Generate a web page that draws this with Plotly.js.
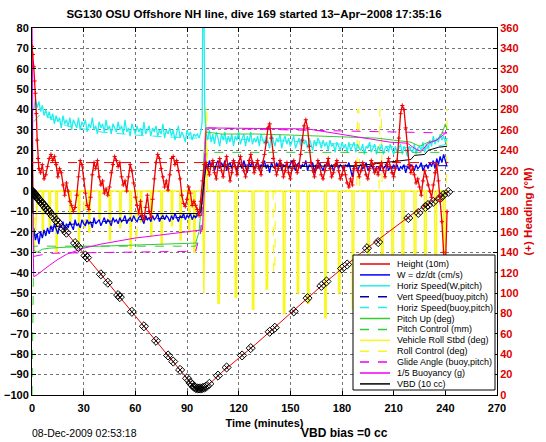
<!DOCTYPE html>
<html><head><meta charset="utf-8">
<script src="https://cdn.plot.ly/plotly-3.0.1.min.js"></script>
<style>html,body{margin:0;padding:0;background:#fff}#c{width:546px;height:442px}</style>
</head><body><div id="c"></div>
<script>
// ---------------- DATA ----------------
const depthT = [0,2,5,10,15,20,30,40,50,60,70,80,88,92,94,96,98,100,101,105,110,120,130,140,150,160,170,180,190,200,210,220,230,235,240,241.8];
const depthV = [0,-2,-5.1,-10.2,-15.3,-20.4,-30.6,-40.8,-51,-61.2,-71.4,-81.6,-89.8,-94,-96,-96.8,-96.8,-96.4,-96,-93,-89,-82,-75,-67.5,-60,-52.5,-45,-38,-31,-24.5,-18,-11.8,-6,-3.5,-1,0];
const markT = [0,0.5,1,1.5,2,2.5,3,3.5,4,5,6,7,8,9,10,12,14,15,18,20,25,27,31,32,40,44,50,51,58,65,72,79,82,86,90,92,93,94,95,96,97,98,99,100,101,103,108,113,122,127,138,141,152,160,168,171,180,183,194.5,201,218.5,224.3,228.4,230,233,237,238.8,241.7];
const markV = [0,-0.5,-1,-1.5,-2,-2.6,-3.1,-3.6,-4.1,-5.1,-6.1,-7.1,-8.2,-9.2,-10.2,-12.2,-14.3,-15.3,-18.4,-20.4,-25.5,-27.5,-31.6,-32.6,-40.8,-44.9,-51,-52,-59.2,-66.3,-73.4,-80.6,-83.6,-87.7,-91.8,-94,-95,-96,-96.5,-96.8,-96.8,-96.8,-96.6,-96.4,-96,-94.5,-90.5,-86.5,-80.6,-77,-69,-67,-59,-52.5,-46.5,-44.3,-38,-36,-28,-25,-13.2,-10.7,-7.8,-6.8,-5.3,-3.4,-1.9,-0.4];

const tD = [1,2,3,4,5,6,7,8,9,10,11,12,13,14,15,16,17,18,19,20,21,22,23,24,25,26,27,28,29,30,31,32,33,34,35,36,37,38,39,40,41,42,43,44,45,46,47,48,49,50,51,52,53,54,55,56,57,58,59,60,61,62,63,64,65,66,67,68,69,70,71,72,73,74,75,76,77,78,79,80,81,82,83,84,85,86,87,88,89,90,91,92,93,94,95];
const tA = [101,102,103,104,105,106,107,108,109,110,111,112,113,114,115,116,117,118,119,120,121,122,123,124,125,126,127,128,129,130,131,132,133,134,135,136,137,138,139,140,141,142,143,144,145,146,147,148,149,150,151,152,153,154,155,156,157,158,159,160,161,162,163,164,165,166,167,168,169,170,171,172,173,174,175,176,177,178,179,180,181,182,183,184,185,186,187,188,189,190,191,192,193,194,195,196,197,198,199,200,201,202,203,204,205,206,207,208,209,210,211,212,213,214,215,216,217,218,219,220,221,222,223,224,225,226,227,228,229,230,231,232,233,234,235,236,237,238,239,240,241];

// Horiz Speed (W,pitch)
const cyanD = [40,45,41,44,39,42,37,40,36,39, 35,38,33,37,34,36,31,37,33,35, 32,36,30,35,33,31,36,30,34,32, 35,29,33,31,36,30,32,28,34,31, 33,29,35,30,32,28,33,31,29,34, 30,32,28,35,29,31,27,33,30,28, 32,29,31,27,34,28,30,32,27,31, 29,32,27,30,28,33,26,30,28,31, 27,30,25,29,32,26,29,27,24,30, 27,29,25,28,27];
const cyanXT = [96,97,98,98.8,99.2,99.8,100.3,100.6];
const cyanX = [28,26,29,34,95,95,40,30];
const cyanA = [29,25,30,24,28,23,29,26,22,28, 25,29,23,27,24,28,22,27,25,29, 23,26,28,22,27,24,29,23,26,24, 27,22,28,25,23,27,24,21,28,25, 22,26,24,28,21,25,27,23,26,22, 25,27,21,24,26,22,27,23,25,21, 26,23,20,25,22,26,24,21,25,22, 24,20,25,22,23,19,24,22,20,24, 21,23,19,24,20,22,24,19,23,21, 20,23,18,22,21,24,19,21,23,18, 22,20,23,18,21,22,19,23,20,18, 22,19,21,23,18,22,20,17,22,20, 19,23,18,21,22,20,24,19,23,21, 25,22,27,23,26,24,28,25,27,24, 26];

// W = dz/dt
const blueD = [-18,-24,-21,-26,-20,-23,-19,-22,-18,-21, -17,-20,-16,-19,-21,-17,-18,-15,-19,-16, -18,-15,-17,-19,-14,-17,-16,-18,-14,-16, -17,-14,-16,-15,-18,-13,-16,-15,-14,-17, -15,-13,-16,-14,-15,-17,-13,-15,-14,-16, -13,-15,-14,-12,-16,-14,-13,-15,-12,-14, -15,-13,-12,-14,-16,-12,-14,-13,-15,-12, -14,-13,-11,-15,-13,-12,-14,-12,-13,-15, -12,-14,-11,-13,-15,-12,-13,-11,-14,-12, -13,-11,-14,-12,-13];
const blueXT = [96,97,98,99,99.5,100,100.5];
const blueX = [-12,-11,-9,-4,2,8,12];
const blueA = [13,11,15,12,14,10,13,15,11,14, 12,15,10,13,14,11,15,12,10,14, 13,11,15,12,9,14,12,15,11,13, 14,10,13,12,15,11,13,9,14,12, 11,14,12,15,10,13,12,14,11,13, 15,12,10,13,14,11,13,12,15,10, 13,12,14,9,13,11,14,12,10,13, 12,14,11,13,10,12,14,11,13,12, 10,13,12,14,11,7,12,13,10,12, 13,11,12,14,10,12,13,11,9,12, 12,10,13,11,12,14,10,12,11,13, 11,13,10,12,11,13,9,12,11,13, 12,10,13,11,12,14,10,12,13,11, 14,12,15,11,16,13,17,14,18,15, 12];

// smooth model series (breakpoints)
const vbuoyT = [1,5,10,20,40,60,80,95,98,100,101,150,200,241];
const vbuoyV = [-22,-20,-18,-16.5,-15,-14,-13,-12.5,-8,6,13,12.5,12,12.5];
const hbuoyT = [1,5,10,20,40,60,80,95,98,100,101,150,200,230,241];
const hbuoyV = [34,38,36,32,29,27.5,26.5,26,26.5,27,26,24.5,22,21,23];
const pitchT = [0.3,1,3,6,10,20,40,60,80,95,97,99,100,101,110,130,150,170,190,200,210,220,225,230,235,238,240,241];
const pitchV = [0,-29,-30,-28.5,-28,-27.5,-27,-26.5,-26,-25.5,-20,0,20,29,28,28,27.5,27,26.5,26,25,24,22,24,25,28,33,30];
const pctlT = [0,0.3,0.6,1,50,95,98,100,101,241];
const pctlV = [-100,-65,-30,-27,-27,-27,-20,10,19,19];
const glideT = [1,10,50,95,98,100,101,150,200,240,241];
const glideV = [-32,-30.5,-30,-29.5,-20,10,31,30,29,28.5,28.5];
const buoyT = [0,0.3,0.6,1,3,6,10,15,20,30,40,50,60,70,80,90,96,99,100,101,160,175,190,208,218,222,226,230,235,241];
const buoyV = [85,60,-20,-42,-41,-39,-36.5,-33.5,-31,-28,-26,-24.5,-23,-22,-21,-20,-19.5,-19,0,31,30.5,28.5,26.5,24,23.5,21,19.5,23.5,25,29];
const vbdT = [0,0.5,97,98,100,101,150,190,200,212,220,222,228,230,236,241];
const vbdV = [40,-11,-11,-10.5,5,12,12,12.5,13.5,14.5,15.5,17.5,18,20,21.5,22];

// Vehicle roll (deg)
const rollT = [0,0.5,1,2,3,4, 5.8,6,6.6,6.8, 9.8,10,10.6,10.8, 13.8,14,14.6,14.8, 21.8,22,22.6,22.8, 26.8,27,27.6,27.8, 32.8,33,33.6,33.8, 38.8,39,39.6,39.8, 44.8,45,45.6,45.8, 50.8,51,51.6,51.8, 56.8,57,57.6,57.8, 62.8,63,63.6,63.8, 68.8,69,69.6,69.8, 74.8,75,75.6,75.8, 80.8,81,81.6,81.8, 85.8,86,86.6,86.8, 90.8,91,91.6,91.8, 93.8,94,94.6,94.8, 99,99.8,100.8,101.8, 107.8,108,108.8,109, 117.8,118,118.8,119, 127.8,128,128.8,129, 135.8,136,136.8,137, 145.8,146,146.8,147, 153.8,154,154.8,155, 159.8,160,160.8,161, 169.8,170,170.8,171, 177.8,178,178.8,179, 185.8,186,186.8,187, 194.8,195,195.8,196, 202.8,203,203.8,204, 208.8,209,209.8,210, 214.8,215,215.8,216, 221.8,222,222.8,223, 227.8,228,228.8,229, 233.8,234,234.8,235, 238.8,239,239.8,240, 241.8];
const rollV = [36,10,-30,-20,-5,0, 0,-22,-22,0, 0,-18,-18,0, 0,-30,-30,0, 0,-16,-16,0, 0,-25,-25,0, 0,-20,-20,0, 0,-14,-14,0, 0,-24,-24,0, 0,-18,-18,0, 0,-28,-28,0, 0,-15,-15,0, 0,-22,-22,0, 0,-26,-26,0, 0,-17,-17,0, 0,-24,-24,0, 0,-20,-20,0, 0,-30,-30,0, 0,-50,41,0, 0,-55,-55,0, 0,-52,-52,0, 0,-58,-58,0, 0,-48,-48,0, 0,-60,-60,0, 0,-50,-50,0, 0,-55,-55,0, 0,-62,-62,0, 0,-50,-50,0, 0,-58,-58,0, 0,-52,-52,0, 0,-60,-60,0, 0,-45,-45,0, 0,-56,-56,0, 0,-64,-64,0, 0,-50,-50,0, 0,-58,-58,0, 0,-62,-62,0, 0];
const rctlT = [0,0.5,2,4,30,30.3,31,31.3,60,60.3,61,61.3,95,100,100.5,101.5,102,140,140.3,141,141.3,188.5,189,189.8,190.3,201.5,202,202.8,203.3,240.5,241,241.8];
const rctlV = [30,-20,-10,0,0,-20,-20,0,0,-25,-25,0,0,0,40,40,0,0,-40,-40,0,0,40,40,0,0,40,40,0,0,40,40];

// Heading (deg M) on right axis
const headT0 = [0,0.5,1,1.5,2,2.5,3,3.5];
const head0 = [342,334,322,308,296,276,250,232];
const headDT = [4,5,6,7,8,9,10,11,12,13,14,15,16,17,18,19,20,21,22,23,24,25,26,27,28,29,30,31,32,33,34,35,36,37,38,39,40,41,42,43,44,45,46,47,48,49,50,51,52,53,54,55,56,57,58,59,60,61,62,63,64,65,66,67,68,69,70,71,72,73,74,75,76,77,78,79,80,81,82,83,84,85,86,87,88,89,90,91,92,93,94,95,96,97,98,99,100];
const headD = [222,218,226,212,216,224,232,236,230,234, 226,214,222,218,206,196,208,200,190,186, 180,184,196,214,230,226,212,198,186,182, 194,216,228,222,230,214,206,210,198,202, 196,204,218,226,234,230,224,228,214,206, 210,200,214,226,220,208,194,186,178,190, 176,172,184,196,180,174,192,212,228,236, 232,222,214,204,210,201,216,232,234,226, 230,220,212,196,188,185,192,204,198,186, 190,186,182,176,190,210,226];
const headA = [228,222,216,226,230,218,212,224,232,220, 214,226,234,222,210,218,230,224,216,228, 234,226,220,214,222,230,236,228,218,224, 230,222,216,228,236,248,262,266,252,232, 224,216,222,230,226,214,220,228,218,212, 222,230,226,218,224,236,250,264,270,262, 244,228,220,214,222,230,224,216,212,220, 226,232,222,214,218,226,230,220,212,216, 224,216,208,204,212,206,222,228,220,214, 220,228,224,216,212,222,230,226,218,222, 216,224,228,220,214,226,232,224,218,214, 222,230,252,276,284,280,262,240,226,218, 224,216,208,212,204,196,210,220,214,206, 200,194,206,218,226,210,190,170,140,120, 180];
const targetT = [0,241.8];
const targetH = [228,228];

const xTicks = [0,30,60,90,120,150,180,210,240,270];
const legendNames = ['Height (10m)','W = dz/dt (cm/s)','Horiz Speed(W,pitch)','Vert Speed(buoy,pitch)','Horiz Speed(buoy,pitch)','Pitch Up (deg)','Pitch Control (mm)','Vehicle Roll Stbd (deg)','Roll Control (deg)','Glide Angle (buoy,pitch)','1/5 Buoyancy (g)','VBD (10 cc)'];

// ---------------- STYLE ----------------
const C = {red:'#ee0000', blue:'#0000ff', cyan:'#22eeee', dblue:'#0000aa', green:'#33cc33', yellow:'#f8f820', mag:'#ee00ee', black:'#000000'};
const legendStyles = [
  {c:C.red,d:'solid'},{c:C.blue,d:'solid'},{c:C.cyan,d:'solid'},{c:C.dblue,d:'dash'},{c:C.cyan,d:'dash'},
  {c:C.green,d:'solid'},{c:C.green,d:'dash'},{c:C.yellow,d:'solid'},{c:C.yellow,d:'dash'},
  {c:C.mag,d:'dash'},{c:C.mag,d:'solid'},{c:C.black,d:'solid'}];
const FONT = 'Liberation Sans, Arial, Helvetica, sans-serif';

function ln(x,y,color,dash,width,extra){
  return Object.assign({x:x,y:y,type:'scatter',mode:'lines',line:{color:color,dash:dash||'solid',width:width||1},showlegend:false,hoverinfo:'skip'},extra||{});
}
const traces = [
  ln(rollT,rollV,C.yellow,'solid',1.5),
  ln(rctlT,rctlV,C.yellow,'dash',1.2),
  ln(depthT,depthV,C.red,'solid',1),
  ln(tD.concat(cyanXT,tA),cyanD.concat(cyanX,cyanA),C.cyan,'solid',1.3),
  ln(hbuoyT,hbuoyV,C.cyan,'dash',1),
  ln(tD.concat(blueXT,tA),blueD.concat(blueX,blueA),C.blue,'solid',1.3),
  ln(vbuoyT,vbuoyV,C.dblue,'dash',1),
  ln(pitchT,pitchV,C.green,'solid',1),
  ln(pctlT,pctlV,C.green,'dash',1),
  ln(glideT,glideV,C.mag,'dash',1),
  ln(buoyT,buoyV,C.mag,'solid',1),
  ln(vbdT,vbdV,C.black,'solid',1),
  {x:markT,y:markV,type:'scatter',mode:'markers',marker:{symbol:'diamond-x-open',size:7,color:'#000',line:{width:1,color:'#000'}},showlegend:false,hoverinfo:'skip'},
  ln(targetT,targetH,C.red,'dash',1,{yaxis:'y2'}),
  {x:headT0.concat(headDT,tA),y:head0.concat(headD,headA),type:'scatter',mode:'lines+markers',yaxis:'y2',
   line:{color:C.red,width:1.3},marker:{symbol:'cross-thin-open',size:3,color:C.red,line:{color:C.red,width:1}},showlegend:false,hoverinfo:'skip'}
];

// manual legend (pixel layout converted to paper coords)
const L=32, R=497, T=28, B=395, PW=R-L, PH=B-T;
const px=v=>(v-L)/PW, py=v=>(B-v)/PH;
const shapes=[{type:'rect',xref:'paper',yref:'paper',x0:px(353),x1:px(495),y0:py(390),y1:py(255),fillcolor:'#fff',line:{color:'#000',width:1},layer:'above'}];
const annotations=[];
legendNames.forEach((n,i)=>{
  const yy=264+i*10.9;
  shapes.push({type:'line',xref:'paper',yref:'paper',x0:px(360),x1:px(390),y0:py(yy),y1:py(yy),line:{color:legendStyles[i].c,dash:legendStyles[i].d,width:1.5},layer:'above'});
  annotations.push({xref:'paper',yref:'paper',x:px(395),y:py(yy),text:n,showarrow:false,xanchor:'left',yanchor:'middle',font:{family:FONT,size:9,color:'#000'}});
});
annotations.push({xref:'paper',yref:'paper',x:px(30),y:py(433),text:'08-Dec-2009 02:53:18',showarrow:false,xanchor:'left',yanchor:'middle',font:{family:FONT,size:10.5,color:'#000'}});
annotations.push({xref:'paper',yref:'paper',x:px(299),y:py(433),text:'VBD bias =0 cc',showarrow:false,xanchor:'left',yanchor:'middle',font:{family:FONT,size:12,color:'#000',weight:'bold'}});

const layout = {
  width:546,height:442,margin:{l:L,r:546-R,t:T,b:442-B},
  paper_bgcolor:'#fff',plot_bgcolor:'#fff',showlegend:false,
  font:{family:FONT,color:'#000'},
  title:{text:'SG130 OSU Offshore NH line, dive 169 started 13\u2212Apr\u22122008 17:35:16',font:{family:FONT,size:11.5,weight:'bold',color:'#000'},xref:'container',x:254/546,xanchor:'center',yref:'container',y:1-14/442,yanchor:'middle'},
  xaxis:{range:[0,270],tickvals:xTicks,ticks:'inside',ticklen:4,tickcolor:'#000',showline:true,linecolor:'#000',linewidth:1,mirror:'ticks',
    showgrid:true,gridcolor:'rgba(0,0,0,0.55)',griddash:'dot',gridwidth:1,zeroline:false,ticklabelstandoff:3,
    tickfont:{family:FONT,size:11,weight:'bold',color:'#000'},
    title:{text:'Time (minutes)',font:{family:FONT,size:11,weight:'bold',color:'#000'},standoff:6}},
  yaxis:{range:[-100,80],dtick:10,ticks:'inside',ticklen:4,tickcolor:'#000',showline:true,linecolor:'#000',linewidth:1,mirror:'ticks',
    showgrid:true,gridcolor:'rgba(0,0,0,0.55)',griddash:'dot',gridwidth:1,zeroline:false,
    tickfont:{family:FONT,size:11,weight:'bold',color:'#000'}},
  yaxis2:{range:[0,360],dtick:20,overlaying:'y',side:'right',ticks:'inside',ticklen:4,tickcolor:'#000',showline:true,linecolor:'#000',
    showgrid:false,zeroline:false,tickfont:{family:FONT,size:11,weight:'bold',color:'#dd0000'},
    title:{text:'(+) Heading (\u00b0M)',font:{family:FONT,size:11.5,weight:'bold',color:'#dd0000'},standoff:6}},
  shapes:shapes,annotations:annotations
};
Plotly.newPlot('c',traces,layout,{staticPlot:true,displayModeBar:false});
</script></body></html>
